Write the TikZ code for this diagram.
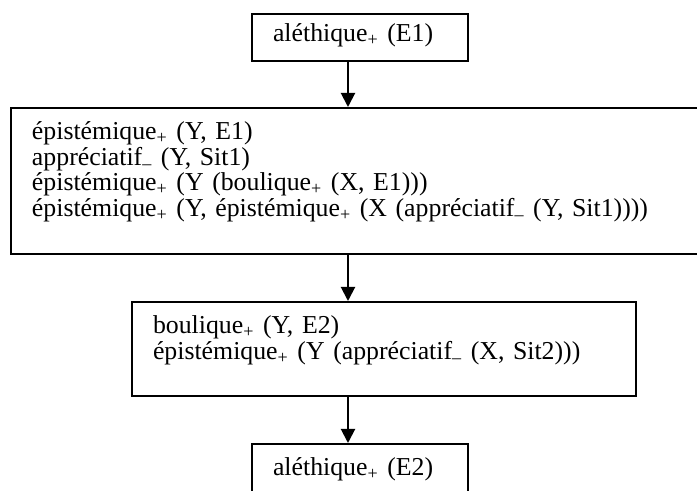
\documentclass[tikz,border=0pt]{standalone}
\usepackage{fontspec}
\setmainfont{Liberation Serif}
\usetikzlibrary{arrows.meta}
\newcommand{\pl}{\textsubscript{+}}
\newcommand{\mn}{\textsubscript{--}}

\begin{document}
\begin{tikzpicture}[x=0.5pt, y=-0.5pt,
		>={Triangle[length=7pt, width=7pt]},
		etape/.style={draw, line width=1pt, anchor=north west, align=left,
			inner xsep=10.5pt, inner ysep=0pt,
			font=\fontsize{12.9}{12.75}\selectfont},
		fleche/.style={->, line width=1pt}
	]
	\useasboundingbox (0,0) rectangle (697,491);
	\clip (0,0) rectangle (697,491);
	\coordinate (axe) at (348,0);
	
	\node[etape, text width=87pt, text height=14pt, text depth=9.5pt] (e1) at (251,13)
		{aléthique\pl{} (E1)};
	\node[etape, text width=329pt, text height=16pt, text depth=57pt] (e2) at (10,107)
		{épistémique\pl{} (Y, E1)\\
		appréciatif\mn{} (Y, Sit1)\\
		épistémique\pl{} (Y (boulique\pl{} (X, E1)))\\
		épistémique\pl{} (Y, épistémique\pl{} (X (appréciatif\mn{} (Y, Sit1))))};
	\node[etape, text width=231pt, text height=16pt, text depth=31pt] (e3) at (131,301)
		{boulique\pl{} (Y, E2)\\
		épistémique\pl{} (Y (appréciatif\mn{} (X, Sit2)))};
	\node[etape, text width=87pt, text height=16pt, text depth=9.5pt] (e4) at (251,443)
		{aléthique\pl{} (E2)};
	
	\draw[fleche] (e1.south -| axe) -- (e2.north -| axe);
	\draw[fleche] (e2.south -| axe) -- (e3.north -| axe);
	\draw[fleche] (e3.south -| axe) -- (e4.north -| axe);
\end{tikzpicture}
\end{document}
